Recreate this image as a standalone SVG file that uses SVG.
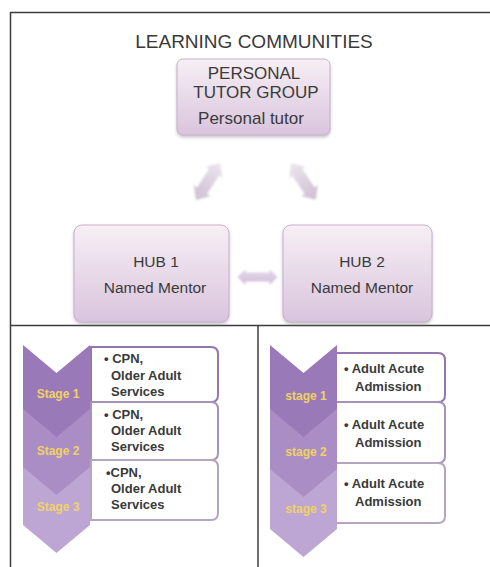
<svg xmlns="http://www.w3.org/2000/svg" width="490" height="567" viewBox="0 0 490 567">
<defs>
<linearGradient id="boxg" x1="0" y1="0" x2="0" y2="1">
<stop offset="0" stop-color="#f7eff5"/>
<stop offset="1" stop-color="#d9c4dd"/>
</linearGradient>
<linearGradient id="arrg" x1="0" y1="0" x2="1" y2="0">
<stop offset="0" stop-color="#ede5ee"/>
<stop offset="1" stop-color="#cdbfd2"/>
</linearGradient>
<linearGradient id="arrh" x1="0" y1="0" x2="0" y2="1">
<stop offset="0" stop-color="#e6d9ec"/>
<stop offset="1" stop-color="#cfbddb"/>
</linearGradient>
<filter id="sh" x="-10%" y="-10%" width="120%" height="130%">
<feDropShadow dx="0" dy="2" stdDeviation="1.5" flood-color="#8a7a8e" flood-opacity="0.45"/>
</filter>
<filter id="blur" x="-20%" y="-20%" width="140%" height="140%">
<feGaussianBlur stdDeviation="0.8"/>
</filter>
</defs>
<style>
.frame{stroke:#3c3c3c;stroke-width:1.5;fill:none}
.box{fill:url(#boxg);stroke:#c6b2ca;stroke-width:1;filter:url(#sh)}
.t{font-family:"Liberation Sans",Arial,sans-serif;fill:#3a3a3a;text-anchor:middle}
.title{font-size:19px}
.pt{font-size:17px}
.hub{font-size:15.5px}
.arrow{fill:url(#arrg);filter:url(#blur)}
.b{font-family:"Liberation Sans",Arial,sans-serif;font-weight:bold;font-size:13px;fill:#3a3a3a}
.stg{font-family:"Liberation Sans",Arial,sans-serif;font-weight:bold;font-size:12px;fill:#f0d264;text-anchor:middle}
.c1{fill:#9a79b8}
.c2{fill:#ab8dc6}
.c3{fill:#bea6d4}
.bx1{fill:#fff;stroke:#9476b1;stroke-width:2}
.bx2{fill:#fff;stroke:#a693b9;stroke-width:2}
.bx3{fill:#fff;stroke:#b3a6be;stroke-width:2}
</style>

<g id="frame">
<line class="frame" x1="10" y1="12.5" x2="490" y2="12.5"/>
<line class="frame" x1="10.5" y1="12" x2="10.5" y2="567"/>
<line class="frame" x1="10" y1="325.5" x2="490" y2="325.5" stroke="#555"/>
<line class="frame" x1="258" y1="325" x2="258" y2="567"/>
</g>

<text class="t title" x="254" y="48">LEARNING COMMUNITIES</text>

<g id="connectors">
<path class="arrow" transform="translate(208,181.5) rotate(123)" d="M-22,0 L-11,-10 L-11,-6 L11,-6 L11,-10 L22,0 L11,10 L11,6 L-11,6 L-11,10 Z"/>
<path class="arrow" transform="translate(303.5,181.5) rotate(56)" d="M-22,0 L-11,-10 L-11,-6 L11,-6 L11,-10 L22,0 L11,10 L11,6 L-11,6 L-11,10 Z"/>
<path fill="url(#arrh)" filter="url(#blur)" transform="translate(257.5,277)" d="M-20,0 L-12,-8 L-12,-4.5 L12,-4.5 L12,-8 L20,0 L12,8 L12,4.5 L-12,4.5 L-12,8 Z"/>
</g>

<g id="personal-tutor-group">
<rect class="box" x="177" y="59" width="153" height="76" rx="6"/>
<text class="t pt" x="254" y="79">PERSONAL</text>
<text class="t pt" x="256" y="98">TUTOR GROUP</text>
<text class="t pt" x="251" y="124">Personal tutor</text>
</g>

<g id="hub1">
<rect class="box" x="74" y="225" width="155" height="97" rx="8"/>
<text class="t hub" x="156" y="267">HUB 1</text>
<text class="t hub" x="155" y="293">Named Mentor</text>
</g>

<g id="hub2">
<rect class="box" x="283" y="225" width="149" height="97" rx="8"/>
<text class="t hub" x="362" y="267">HUB 2</text>
<text class="t hub" x="362" y="293">Named Mentor</text>
</g>

<g id="left-list">
<path class="bx1" d="M91,347 H211 Q218,347 218,354 V395 Q218,402 211,402 H91 Z"/>
<path class="bx2" d="M91,402 H211 Q218,402 218,409 V453 Q218,460 211,460 H91 Z"/>
<path class="bx3" d="M91,460 H211 Q218,460 218,467 V513 Q218,520 211,520 H91 Z"/>
<path class="c3" d="M23,461 L56.5,489 L90,461 L90,525 L56.5,553 L23,525 Z"/>
<path class="c2" d="M23,403 L56.5,431 L90,403 L90,467 L56.5,495 L23,467 Z"/>
<path class="c1" d="M23,345 L56.5,373 L90,345 L90,409 L56.5,437 L23,409 Z"/>
<text class="stg" x="58" y="398">Stage 1</text>
<text class="stg" x="58" y="455">Stage 2</text>
<text class="stg" x="58" y="511">Stage 3</text>
<text class="b" x="104" y="363">• CPN,</text>
<text class="b" x="111" y="380">Older Adult</text>
<text class="b" x="111" y="396">Services</text>
<text class="b" x="104" y="419">• CPN,</text>
<text class="b" x="111" y="435">Older Adult</text>
<text class="b" x="111" y="451">Services</text>
<text class="b" x="106" y="477">•CPN,</text>
<text class="b" x="111" y="493">Older Adult</text>
<text class="b" x="111" y="509">Services</text>
</g>

<g id="right-list">
<path class="bx1" d="M336,353 H438 Q445,353 445,360 V395 Q445,402 438,402 H336 Z"/>
<path class="bx2" d="M336,402 H438 Q445,402 445,409 V456 Q445,463 438,463 H336 Z"/>
<path class="bx3" d="M336,463 H438 Q445,463 445,470 V516 Q445,523 438,523 H336 Z"/>
<path class="c3" d="M270,465 L303.5,493 L337,465 L337,529 L303.5,557 L270,529 Z"/>
<path class="c2" d="M270,405 L303.5,433 L337,405 L337,469 L303.5,497 L270,469 Z"/>
<path class="c1" d="M270,345 L303.5,373 L337,345 L337,409 L303.5,437 L270,409 Z"/>
<text class="stg" x="306" y="400">stage 1</text>
<text class="stg" x="306" y="456">stage 2</text>
<text class="stg" x="306" y="513">stage 3</text>
<text class="b" x="344" y="373">• Adult Acute</text>
<text class="b" x="355" y="391">Admission</text>
<text class="b" x="344" y="429">• Adult Acute</text>
<text class="b" x="355" y="447">Admission</text>
<text class="b" x="344" y="488">• Adult Acute</text>
<text class="b" x="355" y="506">Admission</text>
</g>
</svg>
